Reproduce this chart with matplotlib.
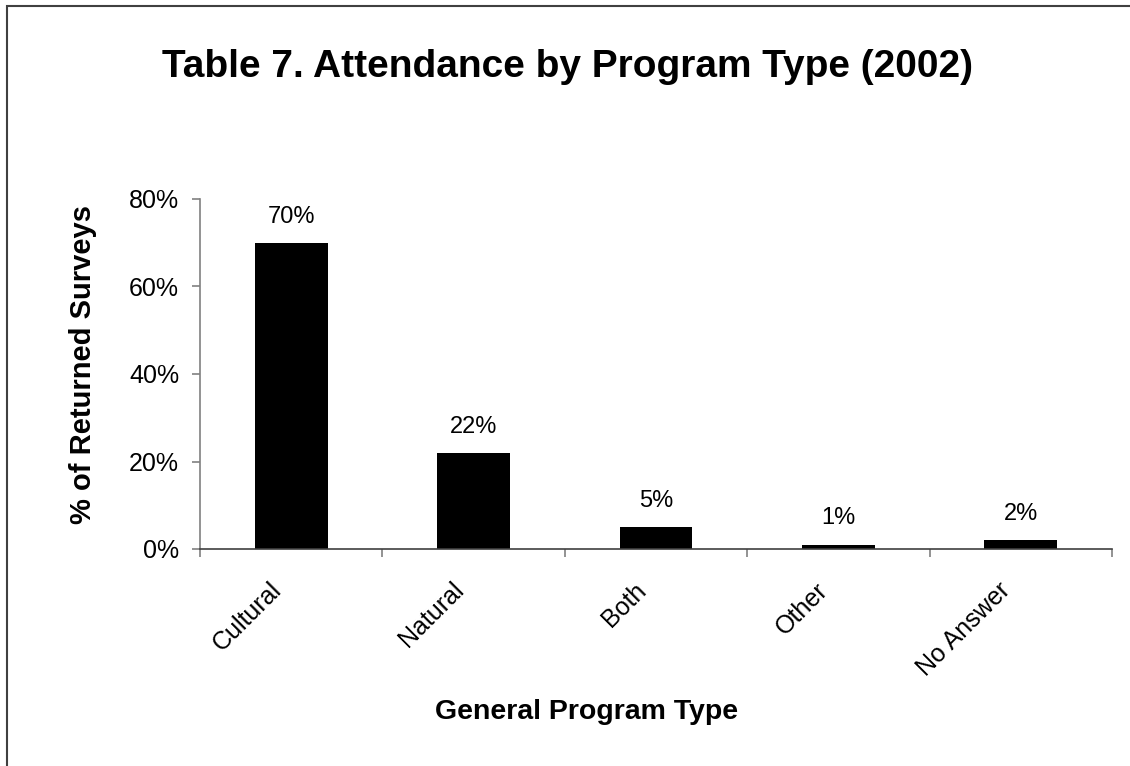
import matplotlib
matplotlib.use("Agg")
import matplotlib.pyplot as plt
from matplotlib.patches import Rectangle
from matplotlib.transforms import ScaledTranslation

# attendance shares by general program type
categories = ["Cultural", "Natural", "Both", "Other", "No Answer"]
percents = [70, 22, 5, 1, 2]
yticks = [0, 20, 40, 60, 80]

plt.rcParams['font.family'] = ['Liberation Sans', 'DejaVu Sans']

fig = plt.figure(figsize=(11.3, 7.66), dpi=100)
ax = fig.add_axes([200 / 1130, 1 - 549 / 766, 912 / 1130, 350 / 766])

x = list(range(len(categories)))
ax.bar(x, percents, width=0.4, color="black")
for xi, p in zip(x, percents):
    ax.annotate(f"{p}%", (xi, p), xytext=(0, 14.5), textcoords="offset points",
                ha="center", va="baseline", fontsize=17)

ax.set_xlim(-0.5, len(categories) - 0.5)
ax.set_ylim(0, 80)
ax.set_yticks(yticks)
ax.set_yticklabels([f"{t}%" for t in yticks], fontsize=18)

# category boundaries carry the ticks, names sit in between
ax.set_xticks([i - 0.5 for i in range(len(categories) + 1)])
ax.set_xticklabels([])
ax.set_xticks(x, minor=True)
ax.set_xticklabels(categories, minor=True, rotation=45, ha="right", va="center",
                   rotation_mode="anchor", fontsize=18)
ax.tick_params(axis="x", which="minor", length=0, pad=27)
shift = ScaledTranslation(-10 / 72, 0, fig.dpi_scale_trans)
for lbl in ax.get_xticklabels(minor=True):
    lbl.set_transform(lbl.get_transform() + shift)
ax.tick_params(axis="both", which="major", direction="out", length=6,
               color="#808080", width=1.2)
ax.tick_params(axis="y", pad=9)

for s in ["top", "right"]:
    ax.spines[s].set_visible(False)
ax.spines["left"].set_color("#808080")
ax.spines["bottom"].set_color("#404040")
ax.spines["left"].set_linewidth(1.2)
ax.spines["bottom"].set_linewidth(1.2)

fig.text(83 / 1130, 1 - 365 / 766, "% of Returned Surveys", fontsize=21,
         fontweight="bold", rotation=90, ha="center", va="center")
fig.text(587 / 1130, 1 - 719 / 766, "General Program Type", fontsize=20.5,
         fontweight="bold", ha="center", va="baseline")
fig.text(568 / 1130, 1 - 77 / 766, "Table 7. Attendance by Program Type (2002)",
         fontsize=28, fontweight="bold", ha="center", va="baseline")

# outer chart frame
fig.patches.append(Rectangle((7 / 1130, -0.05), 1.1, 1 - 6 / 766 + 0.05,
                             transform=fig.transFigure, fill=False,
                             edgecolor="#404040", linewidth=1.5))

fig.savefig("out.png", dpi=100)
